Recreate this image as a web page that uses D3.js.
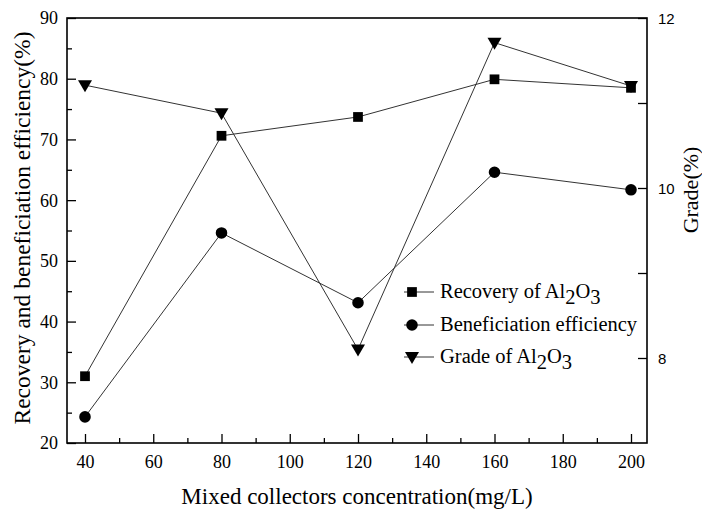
<!DOCTYPE html>
<html><head><meta charset="utf-8">
<script src="https://cdn.jsdelivr.net/npm/d3@7"></script>
<style>body{margin:0;background:#fff;}svg{display:block;}
.serif{font-family:"Liberation Serif","DejaVu Serif","Times New Roman",Times,"Noto Serif",Tinos,serif;}
.sans{font-family:"Liberation Sans",Arial,Helvetica,sans-serif;}
</style>
</head><body>
<svg id="c" width="702" height="514"></svg>
<script>
const concentration = [40, 80, 120, 160, 200];
const recovery = [31.0, 70.6, 73.7, 79.9, 78.5];
const efficiency = [24.3, 54.6, 43.1, 64.6, 61.7];
const grade = [11.21, 10.88, 8.1, 11.71, 11.2];
const xTicks = [40, 60, 80, 100, 120, 140, 160, 180, 200];
const leftTicks = [20, 30, 40, 50, 60, 70, 80, 90];
const rightTicks = [8, 10, 12];

const svg = d3.select("#c");
const L = 67, R = 647, T = 18, B = 443;
const x = d3.scaleLinear().domain([40, 200]).range([85, 631]);
const yL = d3.scaleLinear().domain([20, 90]).range([B, T]);
const yR = d3.scaleLinear().domain([7, 12]).range([B, T]);

// frame
svg.append("rect").attr("x", L).attr("y", T).attr("width", R - L).attr("height", B - T)
  .attr("fill", "none").attr("stroke", "#000").attr("stroke-width", 1.6);

// bottom axis
const gx = svg.append("g").attr("transform", `translate(0,${B})`);
gx.call(d3.axisBottom(x).tickValues(d3.range(40, 201, 10)).tickSize(0).tickFormat(""));
gx.select(".domain").remove();
gx.attr("font-family", null).attr("font-size", null);
gx.selectAll(".tick line").attr("y2", d => d % 20 === 0 ? -9 : -5).attr("stroke", "#000").attr("stroke-width", 1.3);
gx.selectAll(".tick").filter(d => xTicks.includes(d)).append("text")
  .attr("class", "serif").attr("y", 25).attr("fill", "#000").style("font-size", "18px")
  .attr("text-anchor", "middle").text(d => d);

// left axis
const gl = svg.append("g").attr("transform", `translate(${L},0)`);
gl.call(d3.axisLeft(yL).tickValues(d3.range(20, 91, 5)).tickSize(0).tickFormat(""));
gl.select(".domain").remove();
gl.attr("font-family", null).attr("font-size", null);
gl.selectAll(".tick line").attr("x2", d => d % 10 === 0 ? 9 : 5).attr("stroke", "#000").attr("stroke-width", 1.3);
gl.selectAll(".tick").filter(d => leftTicks.includes(d)).append("text")
  .attr("class", "serif").attr("x", -9).attr("dy", "0.33em").attr("fill", "#000").style("font-size", "18px")
  .attr("text-anchor", "end").text(d => d);

// right axis
const gr = svg.append("g").attr("transform", `translate(${R},0)`);
gr.call(d3.axisRight(yR).tickValues([8, 9, 10, 11, 12]).tickSize(0).tickFormat(""));
gr.select(".domain").remove();
gr.attr("font-family", null).attr("font-size", null);
gr.selectAll(".tick line").attr("x2", d => -9).attr("stroke", "#000").attr("stroke-width", 1.3);
gr.selectAll(".tick").filter(d => rightTicks.includes(d)).append("text")
  .attr("class", "sans").attr("x", 11).attr("dy", "0.35em").attr("fill", "#000").style("font-size", "15px")
  .attr("text-anchor", "start").text(d => d);

// axis titles
svg.append("text").attr("class", "serif").attr("transform", `translate(30,228) rotate(-90)`)
  .attr("text-anchor", "middle").style("font-size", "23.5px").attr("fill", "#000")
  .text("Recovery and beneficiation efficiency(%)");
svg.append("text").attr("class", "serif").attr("transform", `translate(698,190) rotate(-90)`)
  .attr("text-anchor", "middle").style("font-size", "22px").attr("fill", "#000")
  .text("Grade(%)");
svg.append("text").attr("class", "serif").attr("x", 357).attr("y", 504)
  .attr("text-anchor", "middle").style("font-size", "23px").attr("fill", "#000")
  .text("Mixed collectors concentration(mg/L)");

// series
const series = [
  {vals: recovery, y: yL, sym: d3.symbolSquare, size: 95},
  {vals: efficiency, y: yL, sym: d3.symbolCircle, size: 105},
  {vals: grade, y: yR, sym: "tri", size: 0}
];
function drawMarker(g, s, cx, cy) {
  if (s.sym === "tri") {
    g.append("path").attr("d", `M${cx - 7},${cy - 5}L${cx + 7},${cy - 5}L${cx},${cy + 7}Z`).attr("fill", "#000");
  } else {
    g.append("path").attr("d", d3.symbol().type(s.sym).size(s.size)()).attr("transform", `translate(${cx},${cy})`).attr("fill", "#000");
  }
}
series.forEach(s => {
  const line = d3.line().x((d, i) => x(concentration[i])).y(d => s.y(d));
  svg.append("path").attr("d", line(s.vals)).attr("fill", "none").attr("stroke", "#333").attr("stroke-width", 1);
  const g = svg.append("g");
  s.vals.forEach((v, i) => drawMarker(g, s, x(concentration[i]), s.y(v)));
});

// legend
const legendRows = [
  {main: "Recovery of Al", sub: "2", tail: "O", sub2: "3", s: series[0], y: 292},
  {main: "Beneficiation efficiency", s: series[1], y: 325},
  {main: "Grade of Al", sub: "2", tail: "O", sub2: "3", s: series[2], y: 357}
];
legendRows.forEach(r => {
  const g = svg.append("g");
  g.append("line").attr("x1", 404).attr("x2", 434).attr("y1", r.y).attr("y2", r.y).attr("stroke", "#333").attr("stroke-width", 1);
  drawMarker(g, r.s, 412, r.y);
  const t = g.append("text").attr("class", "serif").attr("x", 440).attr("y", r.y + 6).style("font-size", "20.5px").attr("fill", "#000");
  t.append("tspan").text(r.main);
  if (r.sub) {
    t.append("tspan").attr("dy", 6).text(r.sub);
    t.append("tspan").attr("dy", -6).text(r.tail);
    t.append("tspan").attr("dy", 6).text(r.sub2);
  }
});
</script>
</body></html>
